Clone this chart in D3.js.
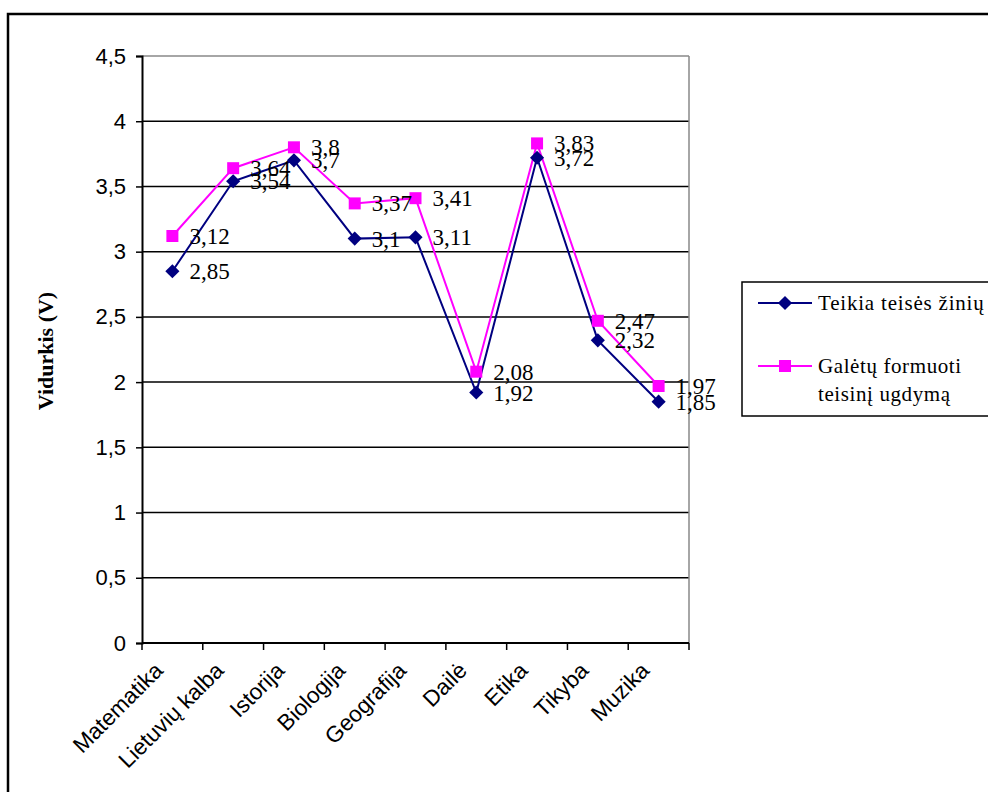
<!DOCTYPE html>
<html>
<head>
    <meta charset="utf-8">
    <script src="https://cdn.jsdelivr.net/npm/d3@7"></script>
    <style>
        body { margin: 0; background: #fff; }
    </style>
</head>
<body>
    <svg width="988" height="792" id="mainsvg"></svg>
    <script>
        // data
        const categories = ['Matematika', 'Lietuvių kalba', 'Istorija', 'Biologija', 'Geografija', 'Dailė', 'Etika', 'Tikyba', 'Muzika'];
        const teikia = [2.85, 3.54, 3.7, 3.1, 3.11, 1.92, 3.72, 2.32, 1.85];
        const galetu = [3.12, 3.64, 3.8, 3.37, 3.41, 2.08, 3.83, 2.47, 1.97];
        const yTicks = [0, 0.5, 1, 1.5, 2, 2.5, 3, 3.5, 4, 4.5];
        const seriesNames = ['Teikia teisės žinių', 'Galėtų formuoti teisinį ugdymą'];

        const svg = d3.select('svg');
        const fmt = v => String(v).replace('.', ',');
        const serif = '"Times New Roman", "Liberation Serif", serif';
        const sans = 'Arial, "Liberation Sans", sans-serif';

        // outer frame
        svg.append('rect').attr('x', 8).attr('y', 14).attr('width', 1000).attr('height', 800)
            .attr('fill', 'none').attr('stroke', 'black').attr('stroke-width', 2.5);

        const plot = { left: 142, right: 689, top: 56, bottom: 643 };
        const x = d3.scaleBand().domain(categories).range([plot.left, plot.right]);
        const y = d3.scaleLinear().domain([0, 4.5]).range([plot.bottom, plot.top]);

        const g = svg.append('g');

        // gridlines
        g.selectAll('line.grid').data(yTicks.filter(d => d > 0)).enter().append('line')
            .attr('x1', plot.left).attr('x2', plot.right)
            .attr('y1', d => y(d)).attr('y2', d => y(d))
            .attr('stroke', d => d === 4.5 ? '#888' : 'black').attr('stroke-width', 1.5);
        // right plot border
        g.append('line').attr('x1', plot.right).attr('x2', plot.right)
            .attr('y1', plot.top).attr('y2', plot.bottom)
            .attr('stroke', '#888').attr('stroke-width', 1.5);

        // y axis
        const yAxis = g.append('g').attr('transform', `translate(${plot.left},0)`)
            .call(d3.axisLeft(y).tickValues(yTicks).tickFormat(fmt).tickSize(6).tickPadding(10));
        yAxis.select('.domain').attr('stroke-width', 2);
        yAxis.selectAll('.tick line').attr('stroke-width', 1.5);
        yAxis.selectAll('text').attr('font-family', sans)
            .attr('font-size', 22).attr('fill', 'black');

        // x axis
        const xAxis = g.append('g').attr('transform', `translate(0,${plot.bottom})`)
            .call(d3.axisBottom(x).tickSize(0).tickFormat(''));
        xAxis.select('.domain').attr('stroke-width', 2).attr('d', `M${plot.left},0H${plot.right}`);
        const bounds = [plot.left].concat(categories.map(c => x(c) + x.bandwidth()));
        g.selectAll('line.xtick').data(bounds).enter().append('line')
            .attr('x1', d => d).attr('x2', d => d)
            .attr('y1', plot.bottom).attr('y2', plot.bottom + 7)
            .attr('stroke', 'black').attr('stroke-width', 1.5);
        g.selectAll('text.xlab').data(categories).enter().append('text')
            .attr('transform', d => `translate(${x(d) + x.bandwidth() / 2 - 8},${plot.bottom + 29}) rotate(-45)`)
            .attr('text-anchor', 'end')
            .attr('font-family', sans)
            .attr('font-size', 22.5)
            .text(d => d);

        // y label
        svg.append('text')
            .attr('transform', 'translate(53,351) rotate(-90)')
            .attr('text-anchor', 'middle')
            .attr('font-family', serif)
            .attr('font-weight', 'bold').attr('font-size', 22)
            .text('Vidurkis (V)');

        const cx = c => x(c) + x.bandwidth() / 2;
        const line = d3.line().x((d, i) => cx(categories[i])).y(d => y(d));

        const series = [
            { name: seriesNames[0], values: teikia, color: '#000080', shape: d3.symbolSquare, size: 100, rot: 45 },
            { name: seriesNames[1], values: galetu, color: '#FF00FF', shape: d3.symbolSquare, size: 144, rot: 0 }
        ];

        series.forEach(s => {
            g.append('path').datum(s.values).attr('d', line)
                .attr('fill', 'none').attr('stroke', s.color).attr('stroke-width', 2);
        });
        series.forEach(s => {
            g.selectAll(null).data(s.values).enter().append('path')
                .attr('transform', (d, i) => `translate(${cx(categories[i])},${y(d)}) rotate(${s.rot})`)
                .attr('d', d3.symbol().type(s.shape).size(s.size))
                .attr('fill', s.color);
        });
        series.forEach(s => {
            g.selectAll(null).data(s.values).enter().append('text')
                .attr('x', (d, i) => cx(categories[i]) + 17)
                .attr('y', d => y(d) + 8)
                .attr('font-family', serif)
                .attr('font-size', 23)
                .text(d => fmt(d));
        });

        // legend
        const lg = svg.append('g');
        lg.append('rect').attr('x', 742).attr('y', 282).attr('width', 260).attr('height', 134)
            .attr('fill', 'white').attr('stroke', 'black').attr('stroke-width', 1.5);
        const legendY = [303, 366];
        series.forEach((s, i) => {
            lg.append('line').attr('x1', 758).attr('x2', 812)
                .attr('y1', legendY[i]).attr('y2', legendY[i])
                .attr('stroke', s.color).attr('stroke-width', 2);
            lg.append('path').attr('transform', `translate(785,${legendY[i]}) rotate(${s.rot})`)
                .attr('d', d3.symbol().type(s.shape).size(s.size)).attr('fill', s.color);
        });
        const legText = lg.append('g')
            .attr('font-family', serif)
            .attr('font-size', 21);
        legText.append('text').attr('x', 818).attr('y', 310).attr('letter-spacing', 0.8).text(seriesNames[0]);
        const words = seriesNames[1].split(' ');
        legText.append('text').attr('x', 818).attr('y', 373).attr('letter-spacing', 0.6).text(words.slice(0, 2).join(' '));
        legText.append('text').attr('x', 818).attr('y', 401).attr('letter-spacing', 0.6).text(words.slice(2).join(' '));
    </script>
</body>
</html>
